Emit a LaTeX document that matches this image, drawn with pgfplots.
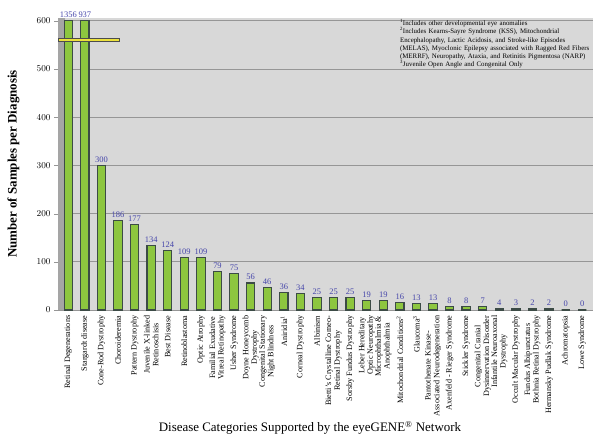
\documentclass[border=0pt]{standalone}
\usepackage{pgfplots}
\pgfplotsset{compat=1.18}
\usepackage{fontspec}
\setmainfont{Liberation Serif}
\definecolor{bargreen}{RGB}{141,198,63}
\definecolor{baredge}{RGB}{60,75,70}
\definecolor{plotbg}{RGB}{216,216,216}
\definecolor{gridc}{RGB}{150,150,150}
\definecolor{valblue}{RGB}{70,70,170}
\definecolor{wall}{RGB}{165,165,165}
\definecolor{marker}{RGB}{235,225,60}
\begin{document}
\begin{tikzpicture}[x=1bp,y=1bp]
\useasboundingbox (0,0) rectangle (600,443);
\begin{axis}[
  at={(58bp,133bp)}, anchor=south west,
  scale only axis, width=535bp, height=292bp,
  xmin=-0.62, xmax=31.65, ymin=0, ymax=606,
  clip=false,
  axis background/.style={fill=plotbg},
  axis lines*=left,
  axis line style={draw=gridc},
  ymajorgrids, major grid style={draw=gridc, line width=0.9pt},
  ytick={0,100,200,300,400,500,600},
  yticklabel style={font=\fontsize{9.5}{10}\selectfont},
  ytick style={draw=gridc},
  tick align=outside, major tick length=4bp,
  xtick={0,...,31},
  xtick style={draw=none},
  xticklabel style={rotate=90, anchor=east, align=center, font=\fontsize{8.2}{8.6}\selectfont, inner sep=1.5pt},
  xticklabels={
    {Retinal Degenerations},
    {Stargardt disease},
    {Cone-Rod Dystrophy},
    {Choroideremia},
    {Pattern Dystrophy},
    {Juvenile X-linked\\Retinoschisis},
    {Best Disease},
    {Retinoblastoma},
    {Optic Atrophy},
    {Familial Exudative\\Vitreal Retinopathy},
    {Usher Syndrome},
    {Doyne Honeycomb\\Dystrophy},
    {Congenital Stationary\\Night Blindness},
    {Aniridia\textsuperscript{1}},
    {Corneal Dystrophy},
    {Albinism},
    {Bietti's Crystalline Corneo-\\Retinal Dystrophy},
    {Sorsby Fundus Dystrophy},
    {Leber Hereditary\\Optic Neuropathy},
    {Microphthalmia \&\\Anophthalmia},
    {Mitochondrial Conditions\textsuperscript{2}},
    {Glaucoma\textsuperscript{3}},
    {Pantothenate Kinase-\\Associated Neurodegeneration},
    {Axenfeld - Rieger Syndrome},
    {Stickler Syndrome},
    {Congenital Cranial\\Dysinnervation Disorder},
    {Infantile Neuroaxonal\\Dystrophy},
    {Occult Macular Dystrophy},
    {Fundus Albipunctatus\\Bothnia Retinal Dystrophy},
    {Hermansky Pudlak Syndrome},
    {Achromatopsia},
    {Lowe Syndrome}},
  ylabel={\bfseries Number of Samples per Diagnosis},
  ylabel style={font=\fontsize{13}{14}\selectfont, at={(axis description cs:-0.083,0.5)}, anchor=center},
  xlabel={Disease Categories Supported by the eyeGENE\textsuperscript{\textregistered} Network},
  xlabel style={font=\fontsize{13}{14}\selectfont, at={(axis description cs:0.471,0)}, anchor=center, yshift=-118bp},
]
\fill[wall] (axis cs:-0.62,0) rectangle (axis cs:-0.2,606);
\addplot[ybar, bar width=0.5, fill=bargreen, draw=baredge, line width=1.1pt,
  restrict y to domain*=0:600,
  nodes near coords, point meta=explicit symbolic,
  every node near coord/.append style={font=\fontsize{8.5}{9}\selectfont, text=valblue, anchor=south, inner sep=2.5pt}]
coordinates {
(0,1356) [1356]
(1,937) [937]
(2,300) [300]
(3,186) [186]
(4,177) [177]
(5,134) [134]
(6,124) [124]
(7,109) [109]
(8,109) [109]
(9,79) [79]
(10,75) [75]
(11,56) [56]
(12,46) [46]
(13,36) [36]
(14,34) [34]
(15,25) [25]
(16,25) [25]
(17,25) [25]
(18,19) [19]
(19,19) [19]
(20,16) [16]
(21,13) [13]
(22,13) [13]
(23,8) [8]
(24,8) [8]
(25,7) [7]
(26,4) [4]
(27,3) [3]
(28,2) [2]
(29,2) [2]
(30,0) [0]
(31,0) [0]
};
\draw[fill=marker, draw=black!70, line width=0.6pt] (axis cs:-0.62,557) rectangle (axis cs:3.1,563);
\node[anchor=north west, inner sep=0pt, text width=200bp, align=left,
  font=\fontsize{6.9}{8.2}\selectfont] at (axis cs:20.0,603) {%
\textsuperscript{1}Includes other developmental eye anomalies\\
\textsuperscript{2}Includes Kearns-Sayre Syndrome (KSS), Mitochondrial\\
Encephalopathy, Lactic Acidosis, and Stroke-like Episodes\\
(MELAS), Myoclonic Epilepsy associated with Ragged Red Fibers\\
(MERRF), Neuropathy, Ataxia, and Retinitis Pigmentosa (NARP)\\
\textsuperscript{3}Juvenile Open Angle and Congenital Only};
\end{axis}
\end{tikzpicture}
\end{document}
